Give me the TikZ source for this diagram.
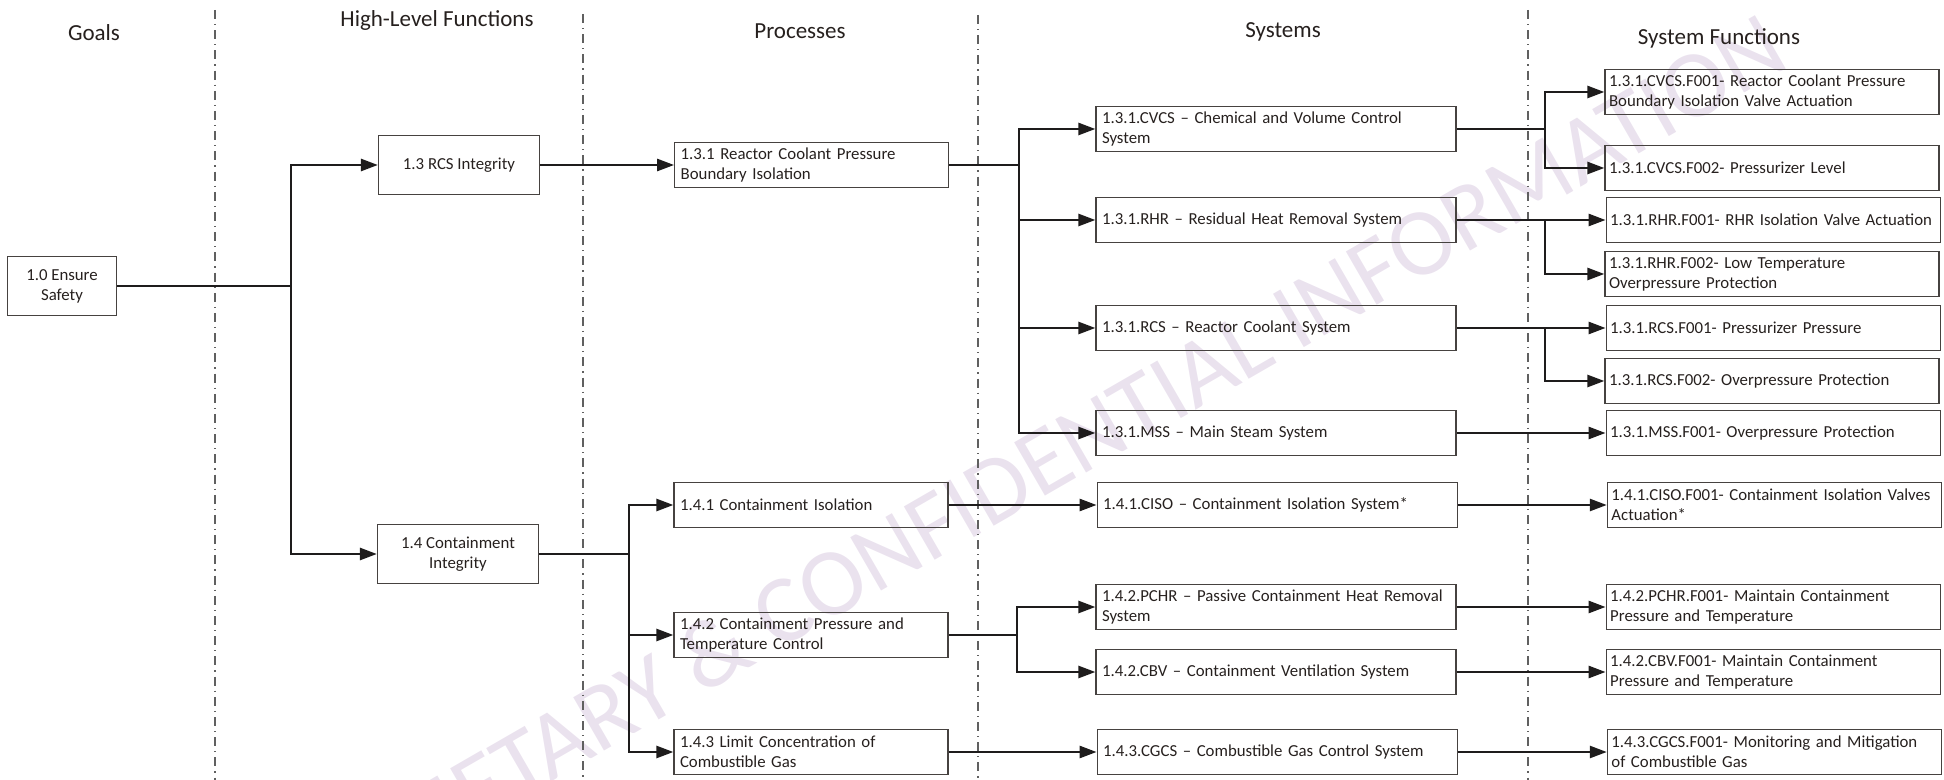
\documentclass[tikz,border=0pt]{standalone}
\usepackage{fontspec}
\setmainfont{Carlito}
\usetikzlibrary{arrows.meta,positioning}
\definecolor{inkgray}{RGB}{38,32,30}
\definecolor{boxgray}{RGB}{70,66,64}
\definecolor{linkgray}{RGB}{30,28,28}
\definecolor{wmpink}{RGB}{234,226,238}
\tikzset{
    box/.style={draw=boxgray, line width=0.6pt, inner xsep=3pt, inner ysep=1pt, text=inkgray, font=\fontsize{8.4}{10}\selectfont},
    goalbox/.style={box, minimum width=54.5pt, minimum height=29.5pt, align=center},
    hlfbox/.style={box, minimum width=80.5pt, minimum height=29.5pt, align=center},
    procbox/.style={box, text width=131pt, minimum height=22.5pt, align=left},
    sysbox/.style={box, text width=174pt, minimum height=22.5pt, align=left},
    fnbox/.style={box, inner xsep=2pt, text width=163pt, minimum height=22.5pt, align=left},
    link/.style={-{Triangle[length=8.5pt, width=6pt]}, line width=1.3pt, linkgray},
    feed/.style={line width=1.3pt, linkgray},
    divider/.style={line width=0.7pt, gray!75!black, dash pattern=on 4.5pt off 2.5pt on 0.6pt off 2.5pt},
    colhead/.style={font=\fontsize{11.5}{13}\selectfont, text=inkgray},
    watermark/.style={font=\fontsize{48}{52}\selectfont, text=wmpink}
}

\begin{document}
\begin{tikzpicture}[x=0.5pt, y=-0.5pt]
    \useasboundingbox (0,0) rectangle (1944,780);
    % watermark
    \begin{scope}
        \clip (0,0) rectangle (1944,780);
        \node[watermark, rotate=30] (wm) at (992,490) {PROPRIETARY \& CONFIDENTIAL INFORMATION};
    \end{scope}

    % column dividers
    \draw[divider] (215,10) -- (215,780);
    \draw[divider] (583,14) -- (583,780);
    \draw[divider] (978,15) -- (978,780);
    \draw[divider] (1528,10) -- (1528,780);

    % column headings
    \node[colhead] (hgoal) at (94,33) {Goals};
    \node[colhead] (hhlf) at (437,20) {High-Level Functions};
    \node[colhead] (hproc) at (800,31) {Processes};
    \node[colhead] (hsys) at (1283,32) {Systems};
    \node[colhead] (hfn) at (1719,38) {System Functions};

    % goal and high-level functions
    \node[goalbox] (safety) at (62,286) {1.0 Ensure\\Safety};
    \node[hlfbox] (rcsint) at (459,165) {1.3 RCS Integrity};
    \node[hlfbox] (cint) at (458,554) {1.4 Containment\\Integrity};

    % processes
    \node[procbox, right=67pt of rcsint] (p131) {1.3.1 Reactor Coolant Pressure\\Boundary Isolation};
    \node[procbox] (p141) at (811,505) {1.4.1 Containment Isolation};
    \node[procbox] (p142) at (811,635) {1.4.2 Containment Pressure and\\Temperature Control};
    \node[procbox] (p143) at (811,752) {1.4.3 Limit Concentration of\\Combustible Gas};

    % systems
    \node[sysbox] (cvcs) at (1276,129) {1.3.1.CVCS – Chemical and Volume Control\\System};
    \node[sysbox] (rhr) at (1276,220) {1.3.1.RHR – Residual Heat Removal System};
    \node[sysbox] (rcs) at (1276,328) {1.3.1.RCS – Reactor Coolant System};
    \node[sysbox] (mss) at (1276,433) {1.3.1.MSS – Main Steam System};
    \node[sysbox, right=74pt of p141] (ciso) {1.4.1.CISO – Containment Isolation System*};
    \node[sysbox] (pchr) at (1276,607) {1.4.2.PCHR – Passive Containment Heat Removal\\System};
    \node[sysbox] (cbv) at (1276,672) {1.4.2.CBV – Containment Ventilation System};
    \node[sysbox, right=74pt of p143] (cgcs) {1.4.3.CGCS – Combustible Gas Control System};

    % system functions
    \node[fnbox] (cvcsf1) at (1772,92) {1.3.1.CVCS.F001- Reactor Coolant Pressure\\Boundary Isolation Valve Actuation};
    \node[fnbox] (cvcsf2) at (1772,168) {1.3.1.CVCS.F002- Pressurizer Level};
    \node[fnbox, right=74.5pt of rhr] (rhrf1) {1.3.1.RHR.F001- RHR Isolation Valve Actuation};
    \node[fnbox] (rhrf2) at (1772,274) {1.3.1.RHR.F002- Low Temperature\\Overpressure Protection};
    \node[fnbox, right=74.5pt of rcs] (rcsf1) {1.3.1.RCS.F001- Pressurizer Pressure};
    \node[fnbox] (rcsf2) at (1772,381) {1.3.1.RCS.F002- Overpressure Protection};
    \node[fnbox, right=74.5pt of mss] (mssf1) {1.3.1.MSS.F001- Overpressure Protection};
    \node[fnbox, right=74.5pt of ciso] (cisof1) {1.4.1.CISO.F001- Containment Isolation Valves\\Actuation*};
    \node[fnbox, right=74.5pt of pchr] (pchrf1) {1.4.2.PCHR.F001- Maintain Containment\\Pressure and Temperature};
    \node[fnbox, right=74.5pt of cbv] (cbvf1) {1.4.2.CBV.F001- Maintain Containment\\Pressure and Temperature};
    \node[fnbox, right=74.5pt of cgcs] (cgcsf1) {1.4.3.CGCS.F001- Monitoring and Mitigation\\of Combustible Gas};

    % junctions
    \coordinate (j0) at (291,286);
    \coordinate (j1) at (629,554);
    \coordinate (j2) at (1019,165);
    \coordinate (j3) at (1017,635);
    \coordinate (j4) at (1545,129);
    \coordinate (j5) at (1545,220);
    \coordinate (j6) at (1545,328);

    % connectors
    \draw[feed] (safety.east) -- (j0);
    \draw[link] (j0) |- (rcsint.west);
    \draw[link] (j0) |- (cint.west);
    \draw[link] (rcsint) -- (p131);
    \draw[feed] (cint.east) -- (j1);
    \draw[link] (j1) |- (p141.west);
    \draw[link] (j1) |- (p142.west);
    \draw[link] (j1) |- (p143.west);
    \draw[feed] (p131.east) -- (j2);
    \draw[link] (j2) |- (cvcs.west);
    \draw[link] (j2) |- (rhr.west);
    \draw[link] (j2) |- (rcs.west);
    \draw[link] (j2) |- (mss.west);
    \draw[link] (p141) -- (ciso);
    \draw[feed] (p142.east) -- (j3);
    \draw[link] (j3) |- (pchr.west);
    \draw[link] (j3) |- (cbv.west);
    \draw[link] (p143) -- (cgcs);
    \draw[feed] (cvcs.east) -- (j4);
    \draw[link] (j4) |- (cvcsf1.west);
    \draw[link] (j4) |- (cvcsf2.west);
    \draw[link] (rhr) -- (rhrf1);
    \draw[link] (j5) |- (rhrf2.west);
    \draw[link] (rcs) -- (rcsf1);
    \draw[link] (j6) |- (rcsf2.west);
    \draw[link] (mss) -- (mssf1);
    \draw[link] (ciso) -- (cisof1);
    \draw[link] (pchr) -- (pchrf1);
    \draw[link] (cbv) -- (cbvf1);
    \draw[link] (cgcs) -- (cgcsf1);
\end{tikzpicture}
\end{document}
